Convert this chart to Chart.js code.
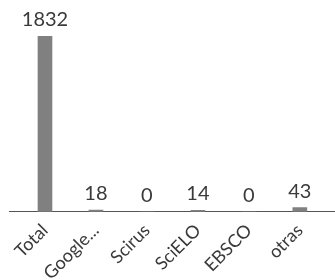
<!DOCTYPE html>
<html>
<head>
<meta charset="utf-8">
<script src="https://cdn.jsdelivr.net/npm/chart.js@4/dist/chart.umd.min.js"></script>
<style>
html,body{margin:0;padding:0;background:#fff;}
canvas{display:block;}
</style>
</head>
<body>
<canvas id="c" width="335" height="280"></canvas>
<script>
const categories = ['Total', 'Google...', 'Scirus', 'SciELO', 'EBSCO', 'otras'];
const values = [1832, 18, 0, 14, 0, 43];

const textColor = '#3a3a3a';
const fontFamily = 'Lato, "Open Sans", sans-serif';

const valueLabels = {
  id: 'valueLabels',
  afterDatasetsDraw(chart) {
    const ctx = chart.ctx;
    const meta = chart.getDatasetMeta(0);
    ctx.save();
    ctx.font = '20px ' + fontFamily;
    ctx.fillStyle = textColor;
    ctx.textAlign = 'center';
    ctx.textBaseline = 'alphabetic';
    meta.data.forEach((bar, i) => {
      ctx.fillText(String(values[i]), bar.x, bar.y - 10);
    });
    ctx.restore();
  }
};

new Chart(document.getElementById('c'), {
  type: 'bar',
  data: {
    datasets: [{
      data: values.map((v, i) => ({ x: i, y: v })),
      backgroundColor: '#808080',
      borderWidth: 0,
      barThickness: 14
    }]
  },
  options: {
    responsive: false,
    devicePixelRatio: 1,
    animation: false,
    layout: { padding: { top: 36, left: 9, right: 0, bottom: -12 } },
    plugins: { legend: { display: false }, tooltip: { enabled: false } },
    scales: {
      x: {
        type: 'linear',
        offset: false,
        min: -0.706,
        max: 5.69,
        grid: { display: false, drawTicks: false },
        border: { display: true, color: '#555', width: 1 },
        afterBuildTicks: (s) => { s.ticks = categories.map((_, i) => ({ value: i })); },
        afterFit: (s) => { s.paddingLeft = 0; s.paddingRight = 0; },
        ticks: {
          autoSkip: false,
          minRotation: 45,
          maxRotation: 45,
          padding: 8,
          color: textColor,
          font: { family: fontFamily, size: 18 },
          callback: (v) => categories[v] ?? ''
        }
      },
      y: {
        display: false,
        min: 0,
        max: 1832
      }
    }
  },
  plugins: [valueLabels]
});
</script>
</body>
</html>
